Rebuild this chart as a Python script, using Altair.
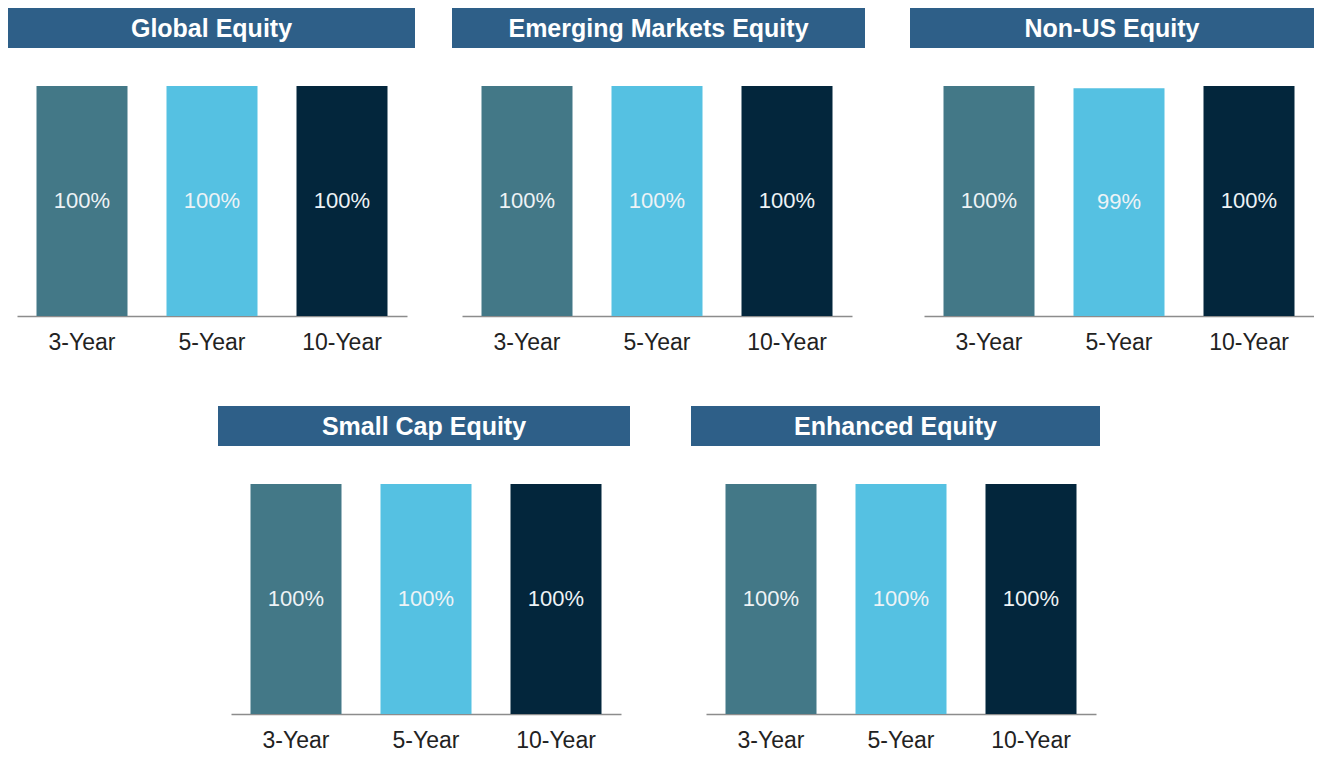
import altair as alt
import pandas as pd

# ---- data ----
panel_titles = ["Global Equity", "Emerging Markets Equity", "Non-US Equity",
                "Small Cap Equity", "Enhanced Equity"]
periods = ["3-Year", "5-Year", "10-Year"]
global_equity = [100, 100, 100]
emerging_markets_equity = [100, 100, 100]
non_us_equity = [100, 99, 100]
small_cap_equity = [100, 100, 100]
enhanced_equity = [100, 100, 100]

# ---- style ----
bar_colors = ["#437887", "#55C1E2", "#03263C"]
header_color = "#2E5F88"
FONT = "Liberation Sans"
W, H = 390, 230


def panel(title, values, left, right):
    df = pd.DataFrame({"period": periods, "value": values})
    base = alt.Chart(df).transform_calculate(
        mid="datum.value / 2", label="datum.value + '%'"
    )
    x = alt.X(
        "period:N", sort=periods,
        scale=alt.Scale(paddingInner=0.3, paddingOuter=0.15),
        axis=alt.Axis(title=None, labelAngle=0, ticks=False, labelPadding=15,
                      labelFontSize=23, labelFont=FONT, labelColor="#222222",
                      domainColor="#8C8C8C", domainWidth=1.5, grid=False),
    )
    yscale = alt.Scale(domain=[0, 100], nice=False, zero=True)
    bars = base.mark_bar().encode(
        x=x,
        y=alt.Y("value:Q", scale=yscale, axis=None),
        color=alt.Color("period:N", sort=periods,
                        scale=alt.Scale(domain=periods, range=bar_colors),
                        legend=None),
    )
    labels = base.mark_text(font=FONT, fontSize=22, color="#EEF3F6",
                            baseline="middle").encode(
        x=x,
        y=alt.Y("mid:Q", scale=yscale, axis=None),
        text="label:N",
    )
    tdf = pd.DataFrame({"title": [title]})
    head = alt.Chart(tdf).mark_rect(color=header_color).encode(
        x=alt.value(left), x2=alt.value(right),
        y=alt.value(-78), y2=alt.value(-38),
    )
    head_text = alt.Chart(tdf).mark_text(
        font=FONT, fontSize=25, fontWeight="bold", color="white",
        baseline="middle", align="center",
    ).encode(
        x=alt.value((left + right) / 2), y=alt.value(-57), text="title:N"
    )
    return alt.layer(head, head_text, bars, labels).properties(width=W, height=H)


def spacer(w):
    return alt.Chart(pd.DataFrame({"s": [0]})).mark_text(text="").properties(
        width=w, height=H)


p1 = panel(panel_titles[0], global_equity, -9, 398)
p2 = panel(panel_titles[1], emerging_markets_equity, -10, 403)
p3 = panel(panel_titles[2], non_us_equity, -14, 390)
p4 = panel(panel_titles[3], small_cap_equity, -13, 399)
p5 = panel(panel_titles[4], enhanced_equity, -15, 394)

top = alt.hconcat(p1, spacer(55), p2, spacer(72), p3, spacing=0, bounds="flush")
bottom = alt.hconcat(p4, spacer(85), p5, spacing=0, bounds="flush")

chart = alt.vconcat(top, bottom, spacing=52, center=True).properties(
    padding=0, background="white"
).configure_view(stroke=None)

chart.save("out.html", embed_options={"renderer": "svg", "actions": False})
